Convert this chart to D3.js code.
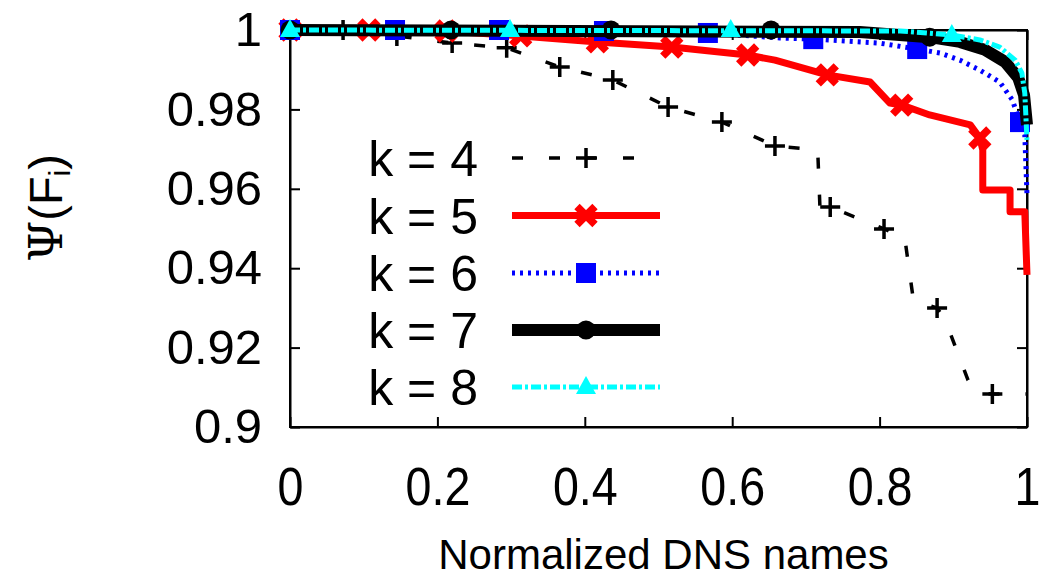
<!DOCTYPE html>
<html>
<head>
<meta charset="utf-8">
<script src="https://cdn.jsdelivr.net/npm/d3@7"></script>
<style>
  body { margin: 0; background: #fff; }
  text { font-family: "Liberation Sans", Arial, sans-serif; fill: #000; }
</style>
</head>
<body>
<div id="main"></div>
<script>
// tick values and labels
var xTicks = [0, 0.2, 0.4, 0.6, 0.8, 1];
var xTickLabels = ["0", "0.2", "0.4", "0.6", "0.8", "1"];
var yTicks = [0.9, 0.92, 0.94, 0.96, 0.98, 1];
var yTickLabels = ["0.9", "0.92", "0.94", "0.96", "0.98", "1"];
var seriesNames = ["k = 4", "k = 5", "k = 6", "k = 7", "k = 8"];

// curves: [normalized DNS names, Psi(F_i)]
var k4 = [[0, 1], [0.072, 1], [0.145, 0.9985], [0.22, 0.9967], [0.294, 0.9955], [0.366, 0.9907],
  [0.438, 0.9874], [0.513, 0.9806], [0.586, 0.9768], [0.658, 0.9708], [0.716, 0.9698], [0.719, 0.9556],
  [0.733, 0.9554], [0.806, 0.9499], [0.834, 0.9478], [0.846, 0.9318], [0.878, 0.930], [0.889, 0.927],
  [0.92, 0.9118], [0.936, 0.9086], [0.953, 0.9083], [1, 0.9083]];
var k4Marks = [[0, 1], [0.072, 1], [0.145, 0.9985], [0.22, 0.9967], [0.294, 0.9955], [0.366, 0.9907],
  [0.438, 0.9874], [0.513, 0.9806], [0.586, 0.9768], [0.658, 0.9708], [0.733, 0.9554], [0.806, 0.9499],
  [0.878, 0.930], [0.953, 0.9083]];

var k5 = [[0, 1], [0.122, 1], [0.2117, 0.99975], [0.313, 0.9985], [0.417, 0.997], [0.518, 0.9957],
  [0.621, 0.9937], [0.658, 0.9924], [0.729, 0.9887], [0.787, 0.9869], [0.814, 0.9816], [0.83, 0.9811],
  [0.868, 0.9786], [0.923, 0.9761], [0.936, 0.9728], [0.94, 0.9698], [0.94, 0.9597], [0.977, 0.9597],
  [0.977, 0.9542], [0.997, 0.9542], [1, 0.9383]];
var k5Marks = [[0, 1], [0.107, 1], [0.2117, 0.99975], [0.313, 0.9985], [0.417, 0.997], [0.518, 0.9957],
  [0.621, 0.9937], [0.729, 0.9887], [0.83, 0.9811], [0.936, 0.9728]];

var k6 = [[0, 1], [0.42, 1], [0.567, 0.99925], [0.665, 0.998], [0.71, 0.9977], [0.8, 0.9967],
  [0.851, 0.9952], [0.882, 0.9942], [0.909, 0.9924], [0.936, 0.9899], [0.963, 0.9869], [0.98, 0.9824],
  [0.9905, 0.9768], [0.997, 0.9736], [1, 0.9584]];
var k6Marks = [[0, 1], [0.1425, 1], [0.2836, 1], [0.426, 0.99975], [0.567, 0.99925], [0.71, 0.9977],
  [0.851, 0.9952], [0.9905, 0.9768]];

var k7 = [[0, 1], [0.773, 0.9995], [0.868, 0.9982], [0.909, 0.997], [0.943, 0.995], [0.97, 0.992],
  [0.988, 0.988], [0.996, 0.9836], [1, 0.9761]];
var k7Marks = [[0, 1], [0.2185, 1], [0.4356, 1], [0.6527, 1], [0.868, 0.9982]];

var k8 = [[0, 1], [0.828, 0.99975], [0.898, 0.99875], [0.936, 0.9975], [0.963, 0.9957], [0.984, 0.9924],
  [0.993, 0.9892], [0.997, 0.9841], [1, 0.9723]];
var k8Marks = [[0, 1], [0.2985, 1], [0.598, 1], [0.898, 0.99875]];

var W = 1040, H = 577;
var plot = { left: 290, right: 1027, top: 30, bottom: 427 };

var svg = d3.select("#main").append("svg")
  .attr("width", W)
  .attr("height", H);

var x = d3.scaleLinear().domain([0, 1]).range([plot.left, plot.right]);
var y = d3.scaleLinear().domain([0.9, 1]).range([plot.bottom, plot.top]);

// axes, ticks pointing inwards like gnuplot
svg.append("g")
  .attr("transform", "translate(0," + plot.bottom + ")")
  .call(d3.axisBottom(x).tickValues(xTicks).tickSize(-10).tickSizeOuter(0).tickPadding(40)
    .tickFormat((d, i) => xTickLabels[i]))
  .call(g => g.selectAll("text").style("font-size", "53px").attr("dy", "0.71em")
    .attr("transform", "scale(0.88,1)"));

svg.append("g")
  .attr("transform", "translate(" + plot.left + ",0)")
  .call(d3.axisLeft(y).tickValues(yTicks).tickSize(-10).tickSizeOuter(0).tickPadding(28)
    .tickFormat((d, i) => yTickLabels[i]))
  .call(g => g.selectAll("text").style("font-size", "49px"));

svg.append("g")
  .attr("transform", "translate(0," + plot.top + ")")
  .call(d3.axisTop(x).tickValues(xTicks).tickSize(-10).tickSizeOuter(0).tickFormat(""));

svg.append("g")
  .attr("transform", "translate(" + plot.right + ",0)")
  .call(d3.axisRight(y).tickValues(yTicks).tickSize(-10).tickSizeOuter(0).tickFormat(""));

svg.selectAll(".domain, .tick line").attr("stroke", "#000").attr("stroke-width", 2);

svg.append("rect")
  .attr("x", plot.left).attr("y", plot.top)
  .attr("width", plot.right - plot.left).attr("height", plot.bottom - plot.top)
  .attr("fill", "none").attr("stroke", "#000").attr("stroke-width", 2);

// axis titles
svg.append("text")
  .attr("x", (plot.left + plot.right) / 2 + 5)
  .attr("y", 569)
  .attr("text-anchor", "middle")
  .style("font-size", "42px")
  .text("Normalized DNS names");

var yTitle = svg.append("text")
  .attr("transform", "translate(62,208) rotate(-90)")
  .attr("text-anchor", "middle")
  .style("font-size", "47px");
yTitle.append("tspan").style("font-family", "'DejaVu Serif', 'Liberation Serif', serif").text("Ψ");
yTitle.append("tspan").text("(F");
yTitle.append("tspan").attr("dy", 8).style("font-size", "30px").text("i");
yTitle.append("tspan").attr("dy", -8).text(")");

// marker shapes
function plusPath(s) { return "M" + (-s) + ",0H" + s + "M0," + (-s) + "V" + s; }
function crossPath(s) { return "M" + (-s) + "," + (-s) + "L" + s + "," + s + "M" + (-s) + "," + s + "L" + s + "," + (-s); }

var series = [
  { name: seriesNames[0], data: k4, marks: k4Marks, color: "#000", width: 3.5, dash: "11,26", marker: "plus" },
  { name: seriesNames[1], data: k5, marks: k5Marks, color: "#ff0000", width: 7, dash: null, marker: "cross" },
  { name: seriesNames[2], data: k6, marks: k6Marks, color: "#0000ff", width: 5, dash: "3,5", marker: "square" },
  { name: seriesNames[3], data: k7, marks: k7Marks, color: "#000", width: 12, dash: null, marker: "circle" },
  { name: seriesNames[4], data: k8, marks: k8Marks, color: "#00ffff", width: 5, dash: "10,3,3,3", marker: "triangle" }
];

function drawMarker(g, s, px, py) {
  if (s.marker === "plus") {
    g.append("path").attr("d", plusPath(10)).attr("transform", "translate(" + px + "," + py + ")")
      .attr("stroke", s.color).attr("stroke-width", 3.5).attr("fill", "none");
  } else if (s.marker === "cross") {
    g.append("path").attr("d", crossPath(9)).attr("transform", "translate(" + px + "," + py + ")")
      .attr("stroke", s.color).attr("stroke-width", 7.5).attr("fill", "none");
  } else if (s.marker === "square") {
    g.append("rect").attr("x", px - 10).attr("y", py - 10).attr("width", 20).attr("height", 20)
      .attr("fill", s.color);
  } else if (s.marker === "circle") {
    g.append("circle").attr("cx", px).attr("cy", py).attr("r", 9.5).attr("fill", s.color);
  } else {
    g.append("path").attr("d", "M0,-11L10,7L-10,7Z").attr("transform", "translate(" + px + "," + py + ")")
      .attr("fill", s.color);
  }
}

var line = d3.line().x(d => x(d[0])).y(d => y(d[1]));

series.forEach(function (s) {
  var g = svg.append("g").attr("class", "series");
  g.append("path")
    .datum(s.data)
    .attr("d", line)
    .attr("fill", "none")
    .attr("stroke", s.color)
    .attr("stroke-width", s.width)
    .attr("stroke-linejoin", "round")
    .attr("stroke-dasharray", s.dash);
  s.marks.forEach(d => drawMarker(g, s, x(d[0]), y(d[1])));
});

// legend
var legendRows = [158, 215.5, 273, 330, 387];
var legend = svg.append("g").attr("class", "legend");
series.forEach(function (s, i) {
  var ly = legendRows[i];
  legend.append("text")
    .attr("x", 478)
    .attr("y", ly)
    .attr("dy", "0.36em")
    .attr("text-anchor", "end")
    .style("font-size", "50px")
    .text(s.name);
  legend.append("line")
    .attr("x1", 512).attr("x2", 660)
    .attr("y1", ly).attr("y2", ly)
    .attr("stroke", s.color)
    .attr("stroke-width", s.width)
    .attr("stroke-dasharray", s.dash);
  drawMarker(legend, s, 586, ly);
});
</script>
</body>
</html>
